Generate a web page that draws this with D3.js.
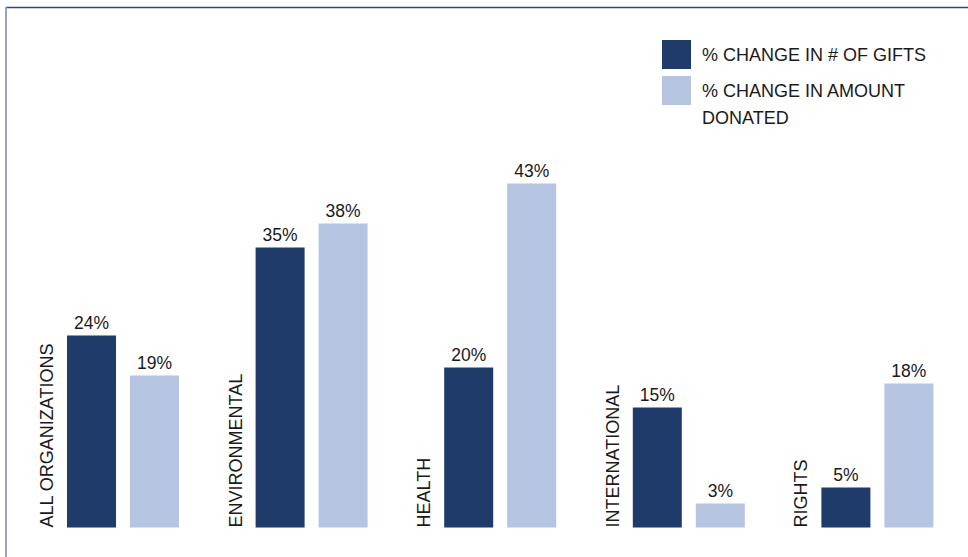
<!DOCTYPE html>
<html>
<head>
<meta charset="utf-8">
<script src="https://cdn.jsdelivr.net/npm/d3@7"></script>
<style>
  html, body { margin: 0; padding: 0; background: #fff; }
  svg { display: block; font-family: "Liberation Sans", Arial, sans-serif; }
</style>
</head>
<body>
<svg id="chart" width="968" height="557"></svg>
<script>
// Categories and series
const categories = ["ALL ORGANIZATIONS", "ENVIRONMENTAL", "HEALTH", "INTERNATIONAL", "RIGHTS"];
const seriesNames = ["% CHANGE IN # OF GIFTS", "% CHANGE IN AMOUNT DONATED"];
const giftsChange = [24, 35, 20, 15, 5];
const amountChange = [19, 38, 43, 3, 18];
const seriesColors = ["#1f3b69", "#b5c5e1"];

const W = 968, H = 557;
const svg = d3.select("#chart");

const rows = categories.map((c, i) => ({
  category: c,
  values: [
    { series: seriesNames[0], value: giftsChange[i] },
    { series: seriesNames[1], value: amountChange[i] }
  ]
}));

// Scales
const baseline = 527.5;
const y = d3.scaleLinear().domain([0, 43]).range([baseline, baseline - 43 * 8]);
const x0 = d3.scaleBand().domain(categories).range([40, 40 + 5 * 188.6]).paddingInner(0).paddingOuter(0);
const x1 = d3.scaleBand().domain(seriesNames).range([27, 139]).paddingInner(0.222).paddingOuter(0);
const color = d3.scaleOrdinal().domain(seriesNames).range(seriesColors);

// Frame lines
svg.append("line").attr("x1", 6).attr("x2", W).attr("y1", 7.5).attr("y2", 7.5)
  .attr("stroke", "#2e4876").attr("stroke-width", 1.5);
svg.append("line").attr("x1", 6).attr("x2", 6).attr("y1", 7).attr("y2", H)
  .attr("stroke", "#97a7c2").attr("stroke-width", 2);

// Bar groups
const groups = svg.append("g").selectAll("g")
  .data(rows).join("g")
  .attr("transform", d => `translate(${x0(d.category)},0)`);

groups.selectAll("rect")
  .data(d => d.values).join("rect")
  .attr("x", d => x1(d.series))
  .attr("width", x1.bandwidth())
  .attr("y", d => y(d.value))
  .attr("height", d => baseline - y(d.value))
  .attr("fill", d => color(d.series));

groups.selectAll("text.val")
  .data(d => d.values).join("text")
  .attr("class", "val")
  .attr("x", d => x1(d.series) + x1.bandwidth() / 2)
  .attr("y", d => y(d.value) - 7)
  .attr("text-anchor", "middle")
  .attr("font-size", 17.5)
  .attr("fill", "#1a1a1a")
  .text(d => d.value + "%");

// Rotated category labels beside each group
groups.append("text")
  .attr("transform", `translate(${x1(seriesNames[0]) - 14},${baseline}) rotate(-90)`)
  .attr("font-size", 18)
  .attr("fill", "#1a1a1a")
  .text(d => d.category);

// Legend
const legend = svg.append("g").attr("transform", "translate(662,40)");
const legendLines = [["% CHANGE IN # OF GIFTS"], ["% CHANGE IN AMOUNT", "DONATED"]];
seriesNames.forEach((s, i) => {
  const g = legend.append("g").attr("transform", `translate(0,${i * 36})`);
  g.append("rect").attr("width", 29).attr("height", 29).attr("fill", color(s));
  const t = g.append("text").attr("x", 40).attr("y", 21)
    .attr("font-size", 18).attr("fill", "#1a1a1a");
  legendLines[i].forEach((line, j) => {
    t.append("tspan").attr("x", 40).attr("dy", j === 0 ? 0 : 27).text(line);
  });
});
</script>
</body>
</html>
